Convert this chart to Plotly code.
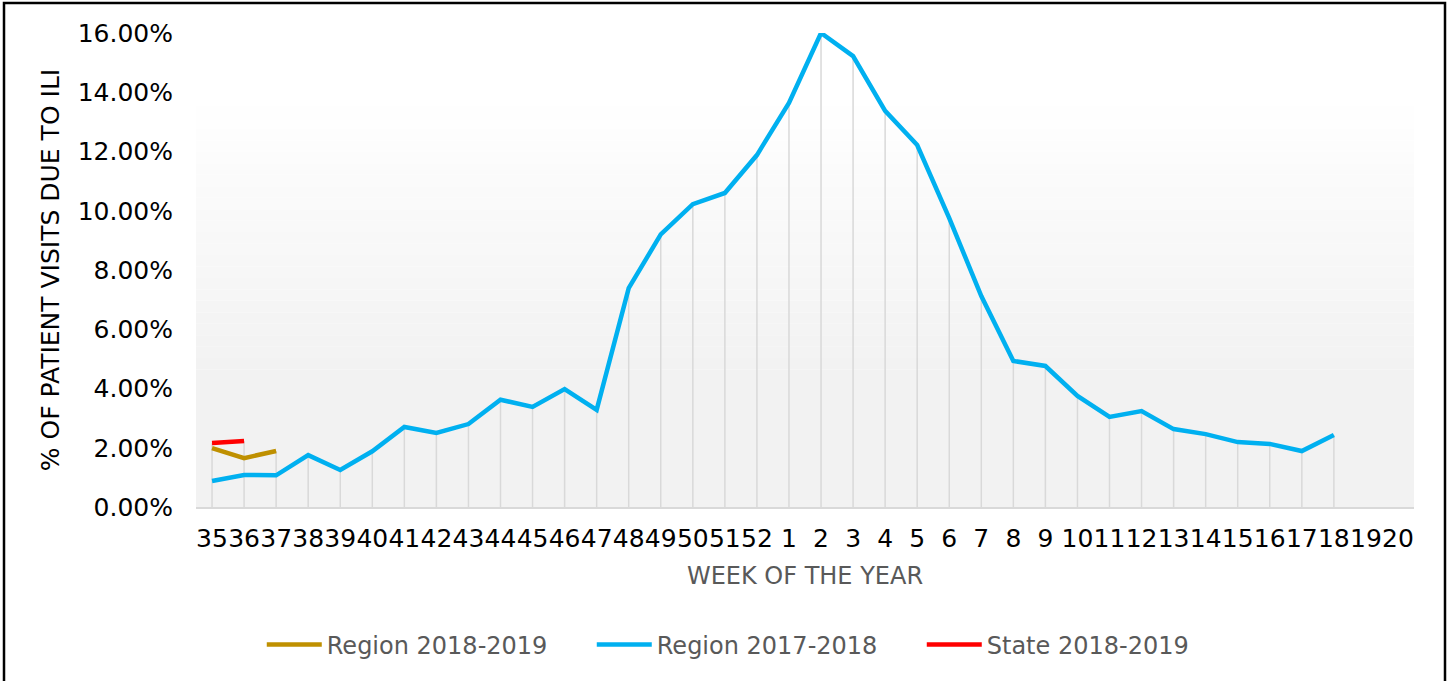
import plotly.graph_objects as go

weeks = [str(w) for w in list(range(35, 53)) + list(range(1, 21))]

region_2017_2018 = [0.88, 1.08, 1.07, 1.75, 1.25, 1.88, 2.70, 2.50, 2.80, 3.62, 3.38, 3.98, 3.28,
                    7.39, 9.20, 10.22, 10.60, 11.88, 13.64, 16.00, 15.22, 13.37, 12.22, 9.75,
                    7.12, 4.93, 4.76, 3.75, 3.04, 3.24, 2.63, 2.46, 2.19, 2.13, 1.89, 2.43,
                    None, None]
region_2018_2019 = [1.99, 1.65, 1.89] + [None] * 35
state_2018_2019 = [2.16, 2.23] + [None] * 36

def frac(v):
    return [None if x is None else x / 100 for x in v]

fig = go.Figure()

# drop lines from the highest series value to the axis
drop_x, drop_y = [], []
for i, w in enumerate(weeks):
    vals = [s[i] for s in (region_2017_2018, region_2018_2019, state_2018_2019) if s[i] is not None]
    if vals:
        drop_x += [w, w, None]
        drop_y += [0, max(vals) / 100, None]
fig.add_trace(go.Scatter(x=drop_x, y=drop_y, mode="lines", line=dict(color="#d9d9d9", width=1.5),
                         showlegend=False, hoverinfo="skip"))

fig.add_trace(go.Scatter(x=weeks, y=frac(region_2018_2019), mode="lines", name="Region 2018-2019",
                         line=dict(color="#BF9000", width=4.5)))
fig.add_trace(go.Scatter(x=weeks, y=frac(region_2017_2018), mode="lines", name="Region 2017-2018",
                         line=dict(color="#00B0F0", width=4.5)))
fig.add_trace(go.Scatter(x=weeks, y=frac(state_2018_2019), mode="lines", name="State 2018-2019",
                         line=dict(color="#FF0000", width=4.5)))

W, H = 1450, 681
ML, MR, MT, MB = 196, 36, 33, 174
PW, PH = W - ML - MR, H - MT - MB

shapes = []
# background gradient bands (white top -> #f2f2f2 bottom)
top_white = 0.87
bottom_gray = 0.29
n = 24
for k in range(n):
    y1 = top_white - (top_white - bottom_gray) * k / n
    y0 = top_white - (top_white - bottom_gray) * (k + 1) / n
    c = int(round(255 - (255 - 242) * (k + 0.5) / n))
    shapes.append(dict(type="rect", xref="paper", yref="paper", x0=0, x1=1, y0=y0, y1=y1,
                       fillcolor=f"rgb({c},{c},{c})", line=dict(width=0), layer="below"))
shapes.append(dict(type="rect", xref="paper", yref="paper", x0=0, x1=1, y0=0, y1=bottom_gray,
                   fillcolor="#f2f2f2", line=dict(width=0), layer="below"))
# outer border
shapes.append(dict(type="rect", xref="paper", yref="paper",
                   x0=-(ML - 4) / PW, x1=1 + (1445 - (W - MR)) / PW,
                   y0=-(MB + 20) / PH, y1=1 + (MT - 3) / PH,
                   line=dict(color="black", width=2.5), fillcolor="rgba(0,0,0,0)"))

fig.update_layout(
    width=W, height=H,
    margin=dict(l=ML, r=MR, t=MT, b=MB, autoexpand=False),
    paper_bgcolor="white", plot_bgcolor="white",
    font=dict(family="DejaVu Sans, Verdana, sans-serif", color="black"),
    shapes=shapes,
    showlegend=True,
    legend=dict(orientation="h", x=0.054, xanchor="left", y=-0.291, yanchor="middle",
                font=dict(size=24, color="#595959"), itemwidth=55, tracegroupgap=0,
                entrywidth=260, entrywidthmode="pixels", bgcolor="rgba(0,0,0,0)"),
    xaxis=dict(type="category", categoryorder="array", categoryarray=weeks,
               tickvals=weeks, ticktext=weeks, showgrid=False, zeroline=False,
               showline=True, linecolor="#d9d9d9", linewidth=2, ticks="",
               tickfont=dict(size=25, color="black"), tickangle=0, automargin=False,
               ticklabelstandoff=8,
               range=[-0.5, len(weeks) - 0.5],
               title=dict(text="WEEK OF THE YEAR", font=dict(size=24, color="#595959"), standoff=15)),
    yaxis=dict(range=[0, 0.16], tickvals=[i / 100 for i in range(0, 17, 2)],
               tickformat=".2%", showgrid=False, zeroline=False, showline=False, ticks="",
               tickfont=dict(size=25, color="black"), ticklabelstandoff=22, automargin=False,
               title=dict(text="% OF PATIENT VISITS DUE TO ILI", font=dict(size=25, color="black"),
                          standoff=10)),
)

fig.write_html("out.html", config={"displayModeBar": False},
               post_script="document.body.style.margin='0';document.body.style.overflow='hidden';")
